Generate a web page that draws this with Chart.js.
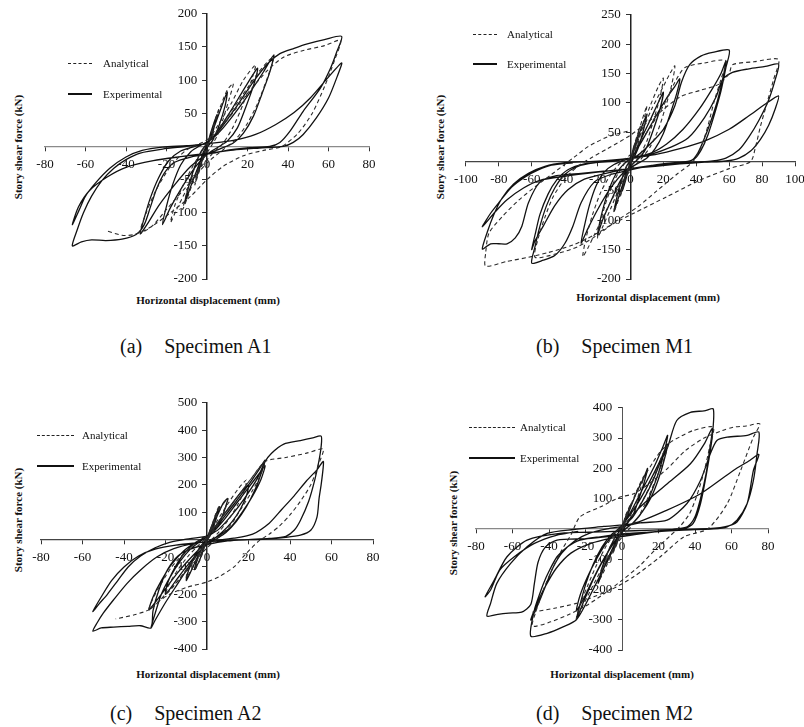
<!DOCTYPE html>
<html>
<head>
<meta charset="utf-8">
<script src="https://cdn.jsdelivr.net/npm/chart.js@4/dist/chart.umd.min.js"></script>
<style>
body{margin:0;background:#fff;width:804px;height:727px;position:relative;overflow:hidden;font-family:"Liberation Serif","Times New Roman",serif;color:#111}
.ytitle{position:absolute;font-weight:bold;font-size:11px;white-space:nowrap;transform:translate(-50%,-50%) rotate(-90deg)}
.xtitle{position:absolute;font-weight:bold;font-size:11px;white-space:nowrap;transform:translate(-50%,-50%)}
.leg{position:absolute;font-size:11px;white-space:nowrap;transform:translateY(-50%)}
.ln{position:absolute;height:0}
.cap{position:absolute;font-size:20px;white-space:nowrap;transform:translateY(-50%)}
.cap span{margin-left:22px}
</style>
</head>
<body>

<script>
// ---- data: [displacement (mm), shear (kN)] ----

// (a) Specimen A1
const a1Ana = [[0,0],[3,30],[6,58],[4,36],[1,6],[-3,-30],[-6,-58],[-4,-35],[-1,-5],[0,0],
  [2,20],[6,55],[10,85],[13,95],[11,72],[8,42],[5,16],[2,0],[-3,-25],[-7,-55],[-10,-80],[-12,-95],[-10,-70],[-7,-40],[-4,-15],[0,5],
  [5,30],[12,65],[18,100],[24,123],[22,100],[18,65],[13,30],[8,5],[3,-10],[-4,-35],[-10,-65],[-15,-95],[-18,-115],[-16,-90],[-12,-60],[-7,-30],[-2,-5],[2,10],
  [9,40],[17,75],[25,110],[30,128],[33,135],[30,105],[25,65],[20,35],[14,10],[8,-5],[0,-25],[-10,-60],[-20,-95],[-27,-120],[-33,-130],[-30,-100],[-25,-65],[-18,-30],[-10,-5],[0,10],
  [10,40],[20,80],[30,115],[38,135],[48,145],[58,152],[66,160],[63,130],[58,90],[52,50],[45,20],[37,0],[28,-6],[18,-14],[8,-30],[0,-50],[-8,-75],[-18,-100],[-28,-122],[-36,-133],[-42,-134],[-50,-127]];
const a1Exp = [[0,0],[2,22],[5,48],[4,35],[2,12],[0,2],[-2,-18],[-5,-45],[-4,-30],[-2,-10],[0,2],
  [3,25],[7,58],[10,82],[9,62],[6,32],[3,10],[0,-2],[-4,-28],[-8,-60],[-11,-85],[-9,-60],[-6,-30],[-3,-8],[0,4],
  [5,22],[11,50],[17,80],[22,105],[25,118],[23,92],[19,58],[15,28],[10,8],[5,-2],[0,-12],[-6,-32],[-12,-60],[-18,-92],[-22,-118],[-20,-90],[-17,-58],[-13,-28],[-8,-8],[-3,2],[2,10],
  [8,28],[15,55],[22,85],[28,113],[33,138],[31,112],[27,78],[23,46],[18,20],[13,5],[7,-3],[0,-12],[-8,-30],[-16,-58],[-24,-90],[-29,-115],[-33,-132],[-31,-108],[-28,-78],[-24,-48],[-19,-22],[-13,-7],[-6,0],[0,6],
  [7,28],[15,62],[23,98],[30,125],[36,140],[43,148],[50,155],[58,161],[66.5,166],[64,142],[61,118],[56,88],[47.5,53],[41,23],[36,6],[31,0],[21,-2],[12,-5],[3,-10],[-8,-16],[-16,-24],[-21,-40],[-25,-65],[-28,-92],[-31,-118],[-35,-133],[-42,-140],[-50,-142],[-57,-141],[-62,-144],[-66.5,-150],
  [-64,-125],[-61,-100],[-57,-75],[-52,-52],[-46,-33],[-40,-20],[-33,-10],[-22,-4],[-10,0],[0,4],[13,9],[24,18],[34,33],[43,51],[51,73],[59,101],[66.5,126],
  [64,103],[60,73],[54,43],[47.5,18],[42.6,6],[37.7,0],[26,-2.5],[13,-5.5],[0,-10.5],[-13,-15.5],[-26.5,-21.5],[-40,-31.5],[-49.5,-46.5],[-58,-66.5],[-63.5,-91.5],[-66.5,-118],
  [-63,-95],[-60,-75],[-55,-55],[-48,-33],[-40,-16],[-32,-6],[-22,-1],[-10,1],[0,4]];

// (b) Specimen M1
const m1Ana = [[0,0],[3,35],[6,60],[4,38],[1,8],[-3,-30],[-6,-58],[-4,-35],[-1,-6],[0,0],
  [3,32],[7,70],[10,95],[8,68],[5,35],[2,8],[-2,-20],[-6,-55],[-10,-85],[-8,-58],[-5,-28],[-2,-5],[1,10],
  [6,50],[12,95],[17,128],[20,142],[18,110],[14,70],[10,35],[5,8],[0,-10],[-6,-40],[-12,-80],[-17,-112],[-20,-130],[-18,-100],[-14,-62],[-9,-28],[-4,-5],[1,12],
  [6,45],[13,90],[20,128],[24,150],[27,163],[25,130],[21,90],[17,55],[12,25],[6,3],[0,-15],[-8,-48],[-15,-85],[-22,-125],[-26,-148],[-29,-162],[-27,-130],[-23,-90],[-18,-52],[-12,-22],[-6,-2],[0,12],
  [10,50],[20,95],[27,135],[33,160],[45,168],[58,172],[55,140],[51,104],[47,60],[43,25],[38,0],[28,-22],[16,-50],[4,-78],[-8,-100],[-20,-125],[-32,-145],[-45,-157],[-58,-163],[-56,-130],[-52,-95],[-47,-60],[-40,-30],[-32,-8],[-24,6],[-14,22],[0,45],[14,75],[30,110],[42,121],[54,132],[60,150],
  [62,165],[75,170],[90,174],[87,140],[83,100],[79,60],[76,25],[73,0],[60,-12],[42,-32],[22,-60],[2,-88],[-10,-105],[-22,-125],[-35,-142],[-50,-155],[-62,-163],[-75,-170],[-88,-178],[-88,-156],[-86,-122],[-78,-94],[-68,-66],[-58,-43],[-48,-22],[-34,8],[-26,25],[-14,42],[0,53]];
const m1Exp = [[0,0],[2,25],[5,45],[3,25],[0,3],[-2,-22],[-5,-50],[-3,-28],[0,-2],
  [3,28],[7,60],[10,80],[8,55],[5,25],[2,6],[-2,-15],[-6,-50],[-10,-85],[-8,-58],[-5,-28],[-2,-6],[1,5],
  [5,30],[11,65],[16,95],[20,118],[18,90],[14,55],[10,25],[6,8],[0,-8],[-6,-32],[-12,-68],[-17,-100],[-20,-125],[-18,-95],[-14,-55],[-9,-22],[-4,-4],[1,8],
  [8,40],[15,75],[22,108],[27,128],[30,141],[28,115],[24,80],[20,48],[15,22],[10,6],[4,-4],[-4,-18],[-12,-45],[-20,-82],[-26,-115],[-30,-139],[-28,-110],[-25,-75],[-21,-42],[-16,-18],[-10,-5],[-3,3],[4,10],
  [12,30],[20,55],[27,95],[31,135],[36,165],[43,180],[50,186],[60,190],[58,160],[55,120],[51,80],[47,45],[43,20],[39,5],[34,0],[22,-3],[10,-8],[0,-14],[-12,-22],[-22,-35],[-30,-70],[-35,-110],[-40,-140],[-46,-160],[-53,-168],[-60,-173],
  [-58,-145],[-55,-110],[-51,-75],[-46,-45],[-40,-22],[-32,-8],[-22,-2],[-10,1],[0,6],[12,14],[22,30],[32,55],[42,90],[50,125],[55,150],[58,171],
  [56,140],[53,105],[49,70],[45,40],[41,15],[37,2],[25,-3],[12,-7],[0,-12],[-15,-20],[-28,-30],[-38,-48],[-46,-75],[-53,-110],[-58,-135],[-60,-150],
  [-58,-125],[-55,-90],[-50,-55],[-45,-32],[-38,-14],[-28,-4],[-15,0],[0,5],
  [12,12],[25,25],[35,40],[45,75],[52,110],[56,140],[62,152],[72,158],[82,162],[90,166],
  [88,140],[84,105],[78,70],[72,42],[66,20],[58,6],[50,1],[40,-1],[25,-4],[10,-8],[0,-12],[-15,-16],[-30,-20],[-45,-24],[-55,-35],[-62,-70],[-66,-110],[-70,-130],[-75,-140],[-80,-140],[-85,-140],[-90,-149],
  [-87,-120],[-83,-90],[-78,-62],[-71,-38],[-62,-20],[-52,-8],[-40,-2],[-25,0],[-10,3],[0,6],[15,12],[30,22],[45,35],[60,55],[72,78],[82,98],[90,112],
  [88,90],[84,62],[79,38],[73,18],[66,6],[58,1],[45,-1],[30,-4],[15,-8],[0,-12],[-20,-18],[-40,-25],[-55,-32],[-65,-45],[-75,-65],[-82,-85],[-90,-111],
  [-85,-88],[-80,-70],[-72,-43],[-64,-26],[-56,-14],[-48,-6],[-35,-2]];

// (c) Specimen A2
const a2Ana = [[0,0],[1.5,35],[3,65],[2,40],[0,8],[-1.5,-30],[-3,-62],[-2,-38],[0,-5],
  [2,45],[4,90],[6,125],[5,95],[3,50],[1,12],[-1,-22],[-3,-68],[-6,-112],[-5,-82],[-3,-42],[-1,-8],[1,18],
  [3,60],[6,110],[10,150],[9,118],[7,78],[4,38],[1,8],[-3,-40],[-6,-90],[-10,-140],[-9,-108],[-6,-65],[-3,-25],[0,5],
  [5,70],[10,130],[15,185],[19,218],[18,180],[15,130],[11,80],[6,30],[1,-10],[-5,-60],[-11,-120],[-16,-170],[-20,-200],[-18,-160],[-14,-110],[-9,-60],[-4,-20],[1,15],
  [7,80],[14,150],[20,210],[25,260],[28,286],[26,240],[22,180],[17,120],[12,60],[6,10],[0,-30],[-7,-90],[-14,-150],[-20,-200],[-25,-240],[-28,-257],[-26,-215],[-22,-160],[-17,-100],[-11,-50],[-5,-10],[1,20],
  [8,90],[15,160],[22,230],[28,286],[38,300],[48,316],[56,331],[54,280],[50,200],[45,140],[40,90],[35,50],[30,20],[25,-5],[19,-50],[13,-100],[6,-135],[0,-155],[-10,-175],[-18,-200],[-24,-230],[-28,-257],[-35,-275],[-44,-290]];
const a2Exp = [[0,0],[1.5,35],[3,60],[2,35],[0,5],[-1.5,-30],[-3,-60],[-2,-35],[0,-5],
  [2,40],[4,85],[6,120],[5,90],[3,45],[1,10],[-1,-20],[-3,-65],[-6,-110],[-5,-80],[-3,-40],[-1,-8],[1,15],
  [3,55],[6,105],[8,135],[10,150],[9,120],[7,80],[4,40],[1,10],[-2,-25],[-5,-70],[-8,-120],[-10,-150],[-9,-115],[-7,-75],[-4,-35],[-1,-5],[2,25],
  [6,70],[11,120],[16,170],[20,200],[19,160],[16,110],[12,65],[7,25],[2,-5],[-4,-45],[-10,-100],[-15,-150],[-20,-200],[-19,-160],[-16,-110],[-12,-60],[-7,-20],[-2,5],[3,30],
  [8,80],[14,140],[20,200],[25,255],[28,290],[26,240],[23,180],[19,120],[14,65],[9,25],[4,0],[-2,-30],[-8,-90],[-14,-160],[-20,-230],[-25,-295],[-27,-323],[-25,-270],[-22,-200],[-18,-140],[-13,-80],[-8,-35],[-3,-5],[2,20],
  [8,70],[14,130],[20,190],[25,240],[28,270],[26,220],[22,160],[17,100],[12,50],[6,15],[0,-10],[-7,-60],[-14,-120],[-20,-180],[-25,-230],[-28,-257],[-26,-210],[-22,-150],[-17,-90],[-11,-40],[-5,-8],[0,10],
  [6,40],[12,90],[18,150],[24,220],[28,285],[31,315],[37,349],[45,362],[51,372],[55,378],[55,340],[54,290],[52,220],[49,140],[45,70],[42,34],[38,12],[30,4],[20,0],[10,-5],[0,-18],[-8,-35],[-14,-60],[-19,-110],[-23,-180],[-26,-260],[-27,-323],[-32,-315],[-38,-317],[-45,-320],[-51,-323],[-55,-335],
  [-53,-305],[-50,-269],[-45,-220],[-38.5,-160],[-32,-111],[-24,-63],[-16,-33],[-6,-14],[3,-5],[13,5],[22,20],[30,60],[36,110],[42,160],[48,215],[53,255],[56,286],
  [56,264],[55,200],[54,150],[53,82],[50,34],[45,16],[38,8],[28,2],[15,-2],[5,-6],[-5,-12],[-15,-20],[-25,-35],[-33,-60],[-40,-100],[-46,-150],[-51,-210],[-55,-263],
  [-52,-235],[-48,-200],[-43,-150],[-38,-100],[-32,-60],[-25,-30],[-18,-10],[-10,2],[0,12]];

// (d) Specimen M2
const m2Ana = [[0,0],[2,45],[5,85],[3,50],[0,8],[-2,-38],[-5,-80],[-3,-45],[0,-5],
  [4,65],[8,125],[12,175],[10,130],[7,75],[3,25],[0,-5],[-4,-55],[-8,-115],[-12,-165],[-10,-120],[-7,-65],[-3,-20],[0,10],
  [5,80],[11,160],[17,220],[21,255],[25,276],[23,230],[19,170],[14,100],[9,40],[4,0],[-3,-50],[-10,-120],[-17,-200],[-22,-260],[-25,-296],[-23,-250],[-19,-190],[-14,-120],[-9,-60],[-4,-15],[1,15],
  [8,60],[16,150],[24.7,276],[32,305],[39,325],[50,336],[48,270],[45,190],[41,110],[37,50],[32,10],[26,-25],[18,-70],[10,-120],[0,-170],[-10,-215],[-20,-255],[-30,-285],[-39,-307],[-49,-321],[-47,-270],[-43,-200],[-38,-130],[-33,-70],[-28,-20],[-23,40],[-12,72],[-1,105],[6.4,116],[15,150],[25,200],[35,260],[45,300],[55,325],[61,336],
  [68,340],[75.5,347],[72,303],[65,193],[57.6,83],[47,0],[34,-26],[21,-92],[6.4,-158],[-6.4,-202],[-15.5,-224],[-25,-246],[-37,-262],[-49,-275]];
const m2Exp = [[0,0],[2,40],[5,80],[3,45],[0,5],[-2,-35],[-5,-75],[-3,-40],[0,-5],
  [4,60],[8,120],[12,170],[14,200],[12,150],[9,95],[6,45],[2,10],[-2,-25],[-6,-75],[-10,-130],[-13,-180],[-11,-130],[-8,-80],[-4,-30],[0,5],
  [6,70],[12,140],[18,210],[22,265],[25,309],[23,250],[20,185],[16,120],[12,65],[7,25],[2,0],[-4,-40],[-10,-100],[-16,-170],[-21,-240],[-25,-299],[-23,-250],[-20,-185],[-16,-120],[-11,-60],[-6,-20],[-1,5],
  [6,60],[12,120],[18,190],[22,240],[25,280],[23,225],[20,165],[16,105],[11,55],[6,20],[0,-10],[-6,-60],[-12,-120],[-17,-180],[-21,-230],[-25,-270],[-23,-220],[-19,-160],[-14,-100],[-9,-50],[-4,-15],[1,10],
  [6,40],[12,100],[17,160],[21,220],[25,270],[30,358],[37.5,385],[45,390],[50,397],[49.4,303],[46.6,193],[43,83],[39,18],[34,0],[17,-10],[3,-15],[-12,-26],[-23,-37],[-30,-60],[-35.6,-92],[-40,-140],[-43,-180],[-46,-230],[-48,-268],[-50,-354],
  [-41,-345],[-32,-323],[-25,-300],[-20,-250],[-15,-190],[-10,-130],[-5,-70],[0,-10],[5,40],[12,84],[25,150],[37.5,215],[45,280],[49.4,331],
  [48,260],[46,180],[43,100],[40,40],[36,8],[30,0],[20,-8],[8,-18],[-5,-30],[-18,-50],[-28,-80],[-36,-130],[-42,-190],[-46,-240],[-50,-301],
  [-46,-250],[-42,-190],[-38,-130],[-33,-80],[-26,-40],[-18,-15],[-8,0],[0,8],
  [10,20],[24.7,29],[35.6,84],[43,160],[48.4,248],[52,292],[57.6,303],[68.6,309],[75,320],[74,248],[72,160],[68.6,84],[63,29],[57.6,7],[50,0],[34,-4],[17,-10],[-1,-21],[-19,-32],[-35.6,-37],[-42,-60],[-46,-110],[-48,-180],[-50,-250],[-55,-275],[-62,-278],[-68,-282],[-74,-288],
  [-72,-246],[-68.6,-180],[-61,-114],[-52,-59],[-41,-15],[-26.5,-2],[-10,8],[6.4,18],[24.7,62],[43,116],[61,193],[70,226],[75,246],
  [72,193],[68.6,84],[63,23],[56,7],[43,0],[17,-4],[-12,-10],[-34,-15],[-52,-37],[-63,-92],[-70,-169],[-75,-224],
  [-72,-202],[-67,-136],[-59,-92],[-48,-48],[-36,-21],[-24,-8]];

// axis ranges [min, max, step]
const a1X = [-80, 80, 20], a1Y = [-200, 200, 50];
const m1X = [-100, 100, 20], m1Y = [-200, 250, 50];
const a2X = [-80, 80, 20], a2Y = [-400, 500, 100];
const m2X = [-80, 80, 20], m2Y = [-400, 400, 100];

const captions = ['(a)|Specimen A1', '(b)|Specimen M1', '(c)|Specimen A2', '(d)|Specimen M2'];

// ---- layout ----
const PAD = {left: 16, right: 16, top: 10, bottom: 12};

function addEl(cls, html, css) {
  const d = document.createElement('div');
  d.className = cls;
  d.innerHTML = html;
  Object.assign(d.style, css);
  document.body.appendChild(d);
  return d;
}

function panel(p) {
  const w = p.area.r - p.area.l + PAD.left + PAD.right;
  const h = p.area.b - p.area.t + PAD.top + PAD.bottom;
  const c = document.createElement('canvas');
  c.width = w; c.height = h;
  c.style.position = 'absolute';
  c.style.left = (p.area.l - PAD.left) + 'px';
  c.style.top = (p.area.t - PAD.top) + 'px';
  document.body.appendChild(c);

  const tickFont = {family: 'Liberation Serif', size: 13};
  new Chart(c, {
    type: 'scatter',
    data: {
      datasets: [
        {label: 'Analytical', data: p.ana.map(v => ({x: v[0], y: v[1]})), showLine: true,
         borderColor: '#2a2a2a', borderWidth: 1.1, borderDash: [4, 3], pointRadius: 0, tension: 0.25},
        {label: 'Experimental', data: p.exp.map(v => ({x: v[0], y: v[1]})), showLine: true,
         borderColor: '#111', borderWidth: 1.3, pointRadius: 0, tension: 0.25}
      ]
    },
    options: {
      responsive: false, animation: false, events: [],
      layout: {padding: PAD},
      plugins: {legend: {display: false}, tooltip: {enabled: false}},
      scales: {
        x: {
          type: 'linear', min: p.xr[0], max: p.xr[1], position: {y: 0},
          ticks: {stepSize: p.xr[2], padding: 6, font: tickFont, color: '#111', autoSkip: false, maxRotation: 0, minRotation: 0},
          grid: {drawOnChartArea: false, drawTicks: true, tickLength: 4, color: '#333'},
          border: Object.assign({color: '#444', width: 1.3}, p.xb || {}),
          afterFit(s) { s.height = 0; }
        },
        y: {
          type: 'linear', min: p.yr[0], max: p.yr[1], position: {x: 0},
          ticks: {stepSize: p.yr[2], font: tickFont, color: '#111', autoSkip: false,
                  callback: v => v === 0 ? '' : v + '   '},
          grid: {drawOnChartArea: false, drawTicks: true, tickLength: 4, color: '#333'},
          border: Object.assign({color: '#222', width: 1.5}, p.yb || {}),
          afterFit(s) { s.width = 0; }
        }
      }
    }
  });

  // axis titles
  addEl('ytitle', 'Story shear force (kN)', {left: p.yt[0] + 'px', top: p.yt[1] + 'px'});
  addEl('xtitle', 'Horizontal displacement (mm)', {left: p.xt[0] + 'px', top: p.xt[1] + 'px'});
  // legend
  const L = p.leg;
  addEl('ln', '', {left: L.x + 'px', top: L.y1 + 'px', width: L.len + 'px', borderTop: '1.6px dashed #222'});
  addEl('leg', 'Analytical', {left: L.tx + 'px', top: L.y1 + 'px'});
  addEl('ln', '', {left: L.x + 'px', top: (L.y2 - 1) + 'px', width: L.len + 'px', borderTop: '2px solid #111'});
  addEl('leg', 'Experimental', {left: L.tx + 'px', top: L.y2 + 'px'});
  // caption
  const cp = p.cap.split('|');
  addEl('cap', cp[0] + '<span>' + cp[1] + '</span>', {left: p.cp[0] + 'px', top: p.cp[1] + 'px'});
}

panel({area: {l: 45, r: 369, t: 13, b: 279}, xr: a1X, yr: a1Y, ana: a1Ana, exp: a1Exp, xb: {color: '#8a8a8a'},
       yt: [18, 147], xt: [208, 300], leg: {x: 68, len: 24, tx: 103, y1: 63, y2: 94}, cap: captions[0], cp: [120, 346]});
panel({area: {l: 464, r: 795, t: 14, b: 279}, xr: m1X, yr: m1Y, ana: m1Ana, exp: m1Exp,
       yt: [440, 147], xt: [648, 297], leg: {x: 473, len: 24, tx: 507, y1: 34, y2: 64}, cap: captions[1], cp: [536, 346]});
panel({area: {l: 41, r: 373, t: 402, b: 649}, xr: a2X, yr: a2Y, ana: a2Ana, exp: a2Exp,
       yt: [18, 520], xt: [208, 674], leg: {x: 37, len: 37, tx: 82, y1: 435, y2: 466}, cap: captions[2], cp: [110, 713]});
panel({area: {l: 476, r: 768, t: 407, b: 650}, xr: m2X, yr: m2Y, ana: m2Ana, exp: m2Exp,
       xb: {color: '#888'}, yb: {color: '#555', width: 1, dash: [6, 3, 1, 3]},
       yt: [453, 523], xt: [622, 674], leg: {x: 469, len: 46, tx: 520, y1: 427, y2: 458}, cap: captions[3], cp: [536, 713]});
</script>
</body>
</html>
